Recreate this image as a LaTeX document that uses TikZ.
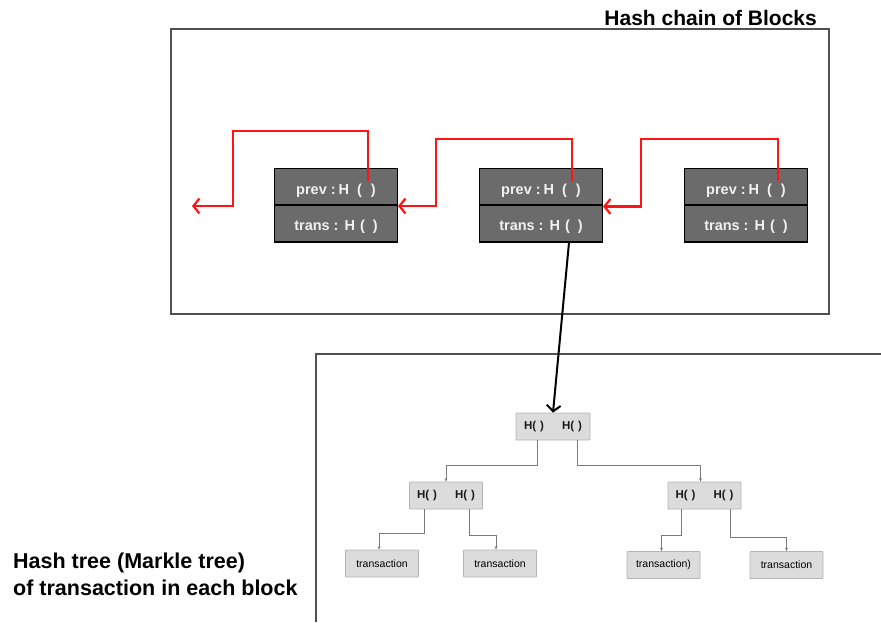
\documentclass[tikz,border=0pt]{standalone}
\usepackage{fontspec}
\setmainfont{Liberation Sans}
\usetikzlibrary{arrows.meta,calc}
\definecolor{blockgray}{HTML}{6B6B6B}
\definecolor{treefill}{HTML}{DCDCDC}
\definecolor{treeline}{HTML}{B4B4B4}
\definecolor{edgegray}{HTML}{7A7A7A}
\definecolor{chainred}{HTML}{FF1414}
\definecolor{framegray}{HTML}{505050}

\begin{document}
\begin{tikzpicture}[x=1pt,y=-1pt,
  half/.style={draw=black, line width=1.1pt, fill=blockgray, minimum width=123pt,
    minimum height=37pt, inner sep=0pt, text=white!94!black, text depth=0pt,
    font=\bfseries\fontsize{14.5}{16}\selectfont},
  chain/.style={draw=chainred, line width=2.2pt,
    -{Straight Barb[length=6pt,width=15pt]}},
  link/.style={draw=black, line width=2pt,
    -{Straight Barb[length=6pt,width=14pt]}},
  hashbox/.style={draw=treeline, line width=0.8pt, fill=treefill, minimum width=74pt,
    minimum height=27pt, inner sep=0pt, rounded corners=0.8pt,
    font=\bfseries\fontsize{11.5}{13}\selectfont, text=black!90},
  leaf/.style={draw=treeline, line width=0.8pt, fill=treefill, minimum width=73pt,
    minimum height=27pt, inner sep=0pt, rounded corners=0.8pt,
    font=\fontsize{10.5}{12}\selectfont, text=black},
  tedge/.style={draw=edgegray, line width=0.7pt,
    -{Stealth[length=3.5pt,width=3pt]}},
  title/.style={font=\bfseries\fontsize{21}{27}\selectfont, text=black, inner sep=0pt}
]
\useasboundingbox (0,0) rectangle (881,622);

% frames
\draw[framegray, line width=1.2pt] (171,29) rectangle (829,314);
\draw[framegray, line width=1.5pt] (316,622) -- (316,354) -- (881,354);

% titles
\node[title, anchor=east] (chaintitle) at (817,18) {Hash chain of Blocks};
\node[title, anchor=north west, align=left, font=\bfseries\fontsize{21.5}{27}\selectfont]
  (treetitle) at (13,553) {Hash tree (Markle tree)\\of transaction in each block};

% blocks of the chain
\newcommand{\prevfield}{prev\hspace{4pt}:\hspace{3pt}H\hspace{8pt}(\hspace{9pt})}
\newcommand{\transfield}{trans\hspace{4pt}:\hspace{6pt}H\hspace{5pt}(\hspace{8pt})\hspace{9pt}}
\foreach \i/\x in {1/336, 2/541, 3/746} {
  \node[half, text height=14.4pt] (b\i p) at (\x,187) {\prevfield};
  \node[half, text height=13.4pt] (b\i t) at (\x,223.5) {\transfield};
}

% hash pointers
\coordinate (genesis) at (192,206);
\draw[chain] ($(b1p.center)+(32,-6)$) |- (233,131) |- (genesis);
\draw[chain] ($(b2p.center)+(31,-6)$) |- (436,139) |- (b1p.south east);
\draw[chain] ($(b3p.center)+(32,-6)$) |- (641,139) |- ($(b2t.north east)+(0,2)$);

% merkle tree
\newcommand{\hashpair}{H(\hspace{4pt})\hspace{18pt}H(\hspace{4pt})}
\node[hashbox] (root) at (553,426.5) {\hashpair};
\node[hashbox, minimum width=73pt] (hl) at (446,495.5) {\hashpair};
\node[hashbox, minimum width=73pt] (hr) at (704.5,495.5) {\hashpair};
\node[leaf] (t1) at (382,563.5) {transaction\hspace{6pt}};
\node[leaf] (t2) at (500,563.5) {transaction\hspace{6pt}};
\node[leaf] (t3) at (663.5,565) {transaction)\hspace{4pt}};
\node[leaf] (t4) at (786.5,565) {transaction\hspace{6pt}};

\draw[link] ($(b2t.south)+(28,0)$) -- (root.north);

\draw[tedge] ($(root.south)+(-16,0)$) -- ++(0,25) -| (hl.north);
\draw[tedge] ($(root.south)+(24,0)$) -- ++(0,25) -| ($(hr.north)+(-4,0)$);
\draw[tedge] ($(hl.south)+(-22,0)$) -- ++(0,24) -| ($(t1.north)+(-3,0)$);
\draw[tedge] ($(hl.south)+(23,0)$) -- ++(0,26) -| ($(t2.north)+(-4,0)$);
\draw[tedge] ($(hr.south)+(-23,0)$) -- ++(0,26) -| ($(t3.north)+(-2,0)$);
\draw[tedge] ($(hr.south)+(26,0)$) -- ++(0,28) -| (t4.north);
\end{tikzpicture}
\end{document}
